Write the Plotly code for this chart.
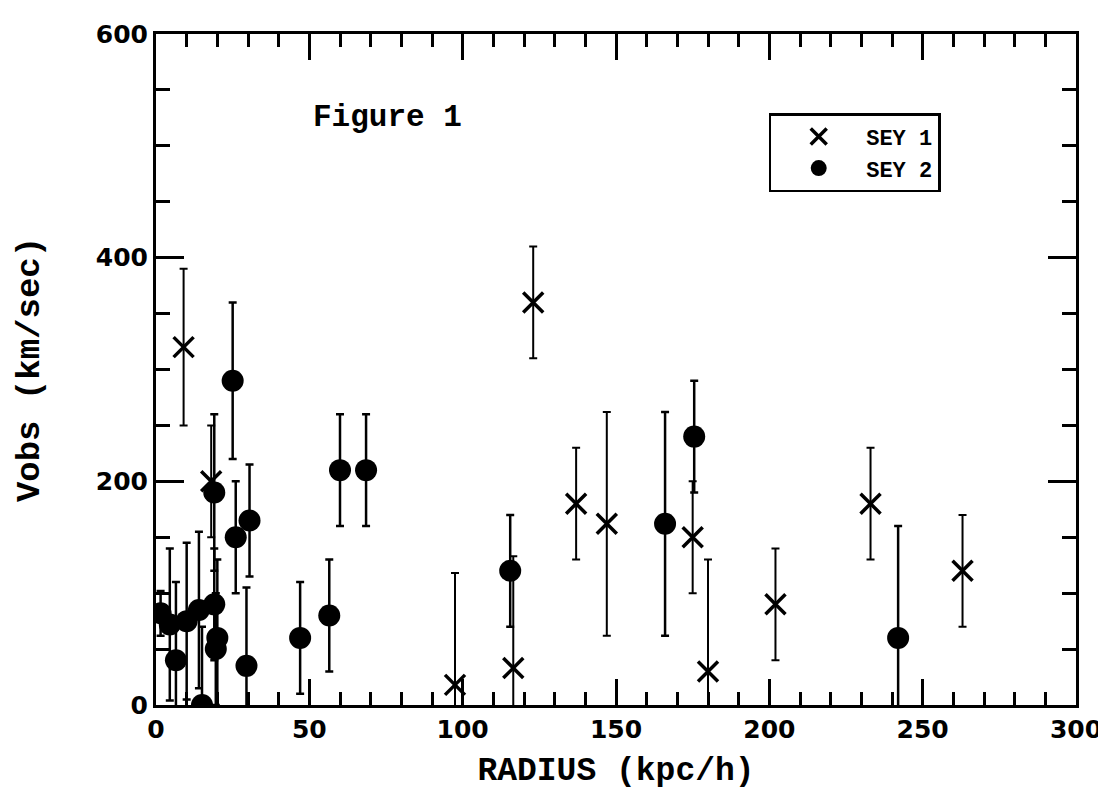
import plotly.graph_objects as go

# SEY 1 (crosses)
sey1_r = [9, 18, 97.5, 116.5, 123, 137, 147, 175, 180, 202, 233, 263]
sey1_v = [320, 200, 18, 33, 360, 180, 162, 150, 30, 90, 180, 120]
sey1_err = [70, 50, 100, 100, 50, 50, 100, 50, 100, 50, 50, 50]

# SEY 2 (filled circles)
sey2_r = [1.5, 4.5, 6.5, 10, 14, 15, 19, 19, 19.5, 20, 25, 26, 29.5, 30.5,
          47, 56.5, 60, 68.5, 115.5, 166, 175.5, 242]
sey2_v = [82, 72, 40, 75, 85, 0, 190, 90, 50, 60, 290, 150, 35, 165,
          60, 80, 210, 210, 120, 162, 240, 60]
sey2_err = [20, 68, 70, 70, 70, 70, 70, 50, 50, 70, 70, 50, 70, 50,
            50, 50, 50, 50, 50, 100, 50, 100]

TITLE_FONT = "Liberation Mono"
TICK_FONT = "DejaVu Sans"

fig = go.Figure()
fig.add_trace(go.Scatter(
    x=sey1_r, y=sey1_v, mode="markers", name="<b>SEY 1</b>",
    marker=dict(symbol="x-thin", size=20, color="black",
                line=dict(width=3.5, color="black")),
    error_y=dict(type="data", array=sey1_err, color="black",
                 thickness=2, width=4),
))
fig.add_trace(go.Scatter(
    x=sey2_r, y=sey2_v, mode="markers", name="<b>SEY 2</b>",
    marker=dict(symbol="circle", size=22, color="black"),
    error_y=dict(type="data", array=sey2_err, color="black",
                 thickness=2.5, width=4),
))

fig.update_xaxes(
    range=[0, 300], tickmode="linear", tick0=0, dtick=50,
    ticks="inside", ticklen=26, tickwidth=3, tickcolor="black",
    showline=True, linewidth=3, linecolor="black", mirror="allticks",
    minor=dict(tickmode="linear", tick0=0, dtick=10, ticks="inside",
               ticklen=13, tickwidth=2.5, tickcolor="black"),
    showgrid=False, zeroline=False,
    tickfont=dict(family=TICK_FONT, size=25, color="black", weight="bold"),
    title=dict(text="RADIUS (kpc/h)", standoff=14,
               font=dict(family=TITLE_FONT, size=33, color="black", weight="bold")),
)
fig.update_yaxes(
    range=[0, 600], tickmode="linear", tick0=0, dtick=200,
    ticks="inside", ticklen=28, tickwidth=3, tickcolor="black",
    showline=True, linewidth=3, linecolor="black", mirror="allticks",
    minor=dict(tickmode="linear", tick0=0, dtick=50, ticks="inside",
               ticklen=14, tickwidth=2.5, tickcolor="black"),
    showgrid=False, zeroline=False,
    tickfont=dict(family=TICK_FONT, size=25, color="black", weight="bold"),
    title=dict(text="Vobs (km/sec)", standoff=46,
               font=dict(family=TITLE_FONT, size=34, color="black", weight="bold")),
)

fig.add_annotation(
    x=75.5, y=525, xref="x", yref="y", text="<b>Figure 1</b>", showarrow=False,
    font=dict(family=TITLE_FONT, size=31, color="black"),
)

fig.update_layout(
    width=1106, height=791,
    margin=dict(l=148, r=36, t=16, b=94),
    paper_bgcolor="white", plot_bgcolor="white",
    showlegend=True,
    legend=dict(
        x=0.666, y=0.882, xanchor="left", yanchor="top",
        bgcolor="white", bordercolor="black", borderwidth=2.5,
        font=dict(family=TITLE_FONT, size=22, color="black"),
        itemwidth=85,
    ),
)

fig.write_html("out.html")
